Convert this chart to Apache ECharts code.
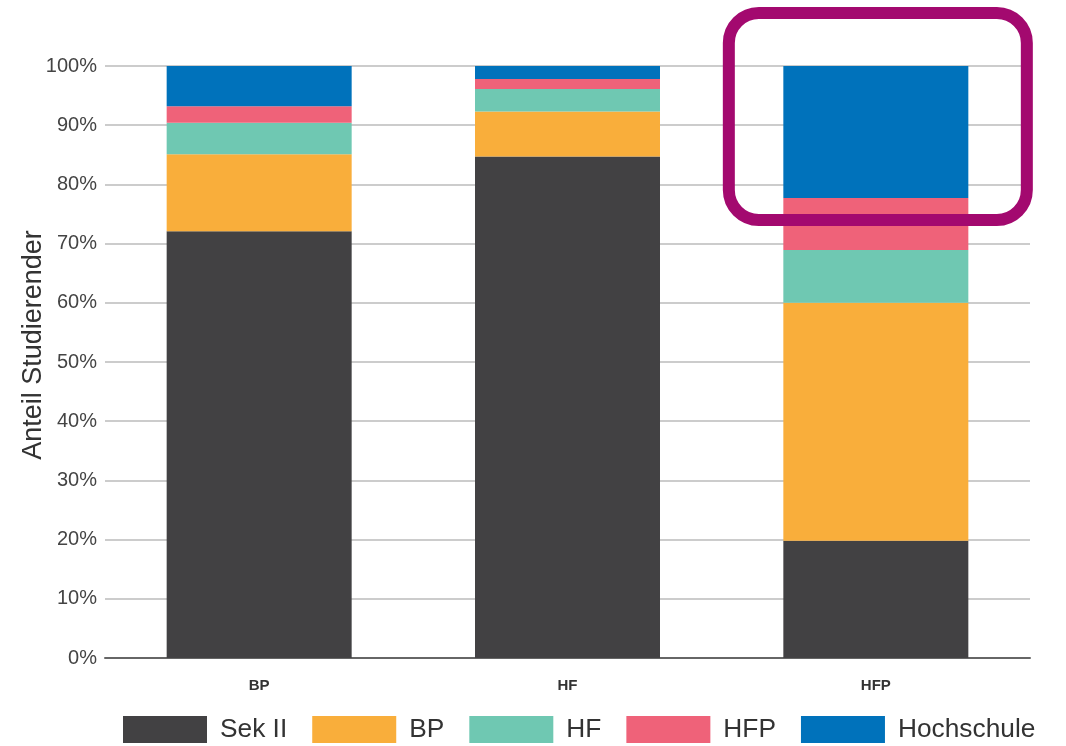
<!DOCTYPE html>
<html><head><meta charset="utf-8">
<script src="https://cdn.jsdelivr.net/npm/echarts@6/dist/echarts.min.js"></script>
<style>html,body{margin:0;padding:0;background:#fff}#c{width:1066px;height:746px}</style>
</head><body><div id="c"></div>
<script>
const categories = ['BP', 'HF', 'HFP'];
const seriesNames = ['Sek II', 'BP', 'HF', 'HFP', 'Hochschule'];
const sekII = [72.1, 84.7, 19.8];
const bp = [13.0, 7.6, 40.2];
const hf = [5.3, 3.8, 8.9];
const hfp = [2.8, 1.7, 8.8];
const hochschule = [6.8, 2.2, 22.3];
const yTicks = [0, 10, 20, 30, 40, 50, 60, 70, 80, 90, 100];
const colors = ['#424143', '#F9AE3B', '#6FC8B2', '#EF6279', '#0072BB'];
const values = [sekII, bp, hf, hfp, hochschule];

const chart = echarts.init(document.getElementById('c'), null, {renderer: 'canvas'});
chart.setOption({
  animation: false,
  color: colors,
  grid: {left: 105, right: 36, top: 66, bottom: 88, containLabel: false},
  legend: {
    bottom: 3, left: 123, padding: 0,
    itemWidth: 84, itemHeight: 27, itemGap: 25,
    icon: 'rect',
    textStyle: {fontFamily: 'Liberation Sans, Arial, sans-serif', fontSize: 26.3, color: '#333', padding: [0, 0, 0, 8]},
    data: seriesNames
  },
  xAxis: {
    type: 'category', data: categories,
    axisLine: {lineStyle: {color: '#666', width: 2}},
    axisTick: {show: false},
    axisLabel: {fontFamily: 'Liberation Sans, Arial, sans-serif', fontSize: 15, fontWeight: 'bold', color: '#333', margin: 20}
  },
  yAxis: {
    type: 'value', min: 0, max: 100, interval: 10,
    name: 'Anteil Studierender', nameLocation: 'middle', nameGap: 58, nameRotate: 90,
    nameMoveOverlap: false,
    nameTextStyle: {fontFamily: 'Liberation Sans, Arial, sans-serif', fontSize: 27, color: '#333', padding: [0, 0, 0, 34]},
    axisLine: {show: false}, axisTick: {show: false},
    axisLabel: {fontFamily: 'Liberation Sans, Arial, sans-serif', fontSize: 20, color: '#444', margin: 8,
      formatter: v => yTicks.includes(v) ? v + '%' : ''},
    splitLine: {lineStyle: {color: '#cccccc', width: 2}}
  },
  series: seriesNames.map((n, i) => ({
    name: n, type: 'bar', stack: 'total', barCategoryGap: '40%',
    data: values[i], itemStyle: {color: colors[i]}
  }))
});

// highlight frame around the Hochschule segment of HFP
const cx = chart.convertToPixel({xAxisIndex: 0}, 'HFP');
const yTop = chart.convertToPixel({yAxisIndex: 0}, 100);
const yBot = chart.convertToPixel({yAxisIndex: 0}, 74);
const w = 298;
chart.setOption({
  graphic: [{
    type: 'rect', z: 100,
    shape: {x: cx - w / 2 + 2, y: yTop - 53, width: w, height: yBot - (yTop - 53), r: 30},
    style: {fill: 'none', stroke: '#A3096F', lineWidth: 12}
  }]
});
</script></body></html>
